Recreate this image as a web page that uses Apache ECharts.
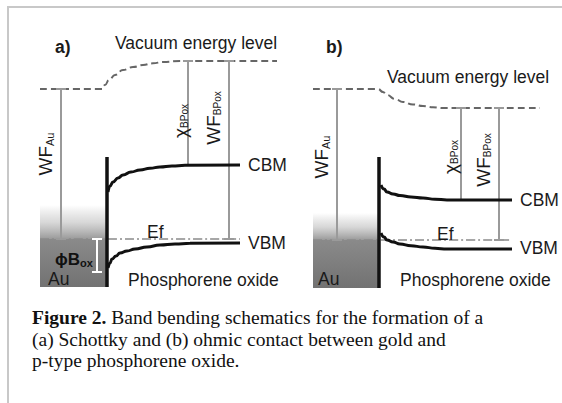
<!DOCTYPE html>
<html><head><meta charset="utf-8">
<script src="https://cdn.jsdelivr.net/npm/echarts@6/dist/echarts.min.js"></script>
<style>html,body{margin:0;padding:0;background:#fff}#c{width:562px;height:403px}</style>
</head><body><div id="c"></div>
<script>
// Schematic coordinates: x = position across the figure, y = energy depth (larger = lower energy)
const vacuumA = [[40,89],[102,89],[105,85],[109,80],[115,75],[123,70],[133,67],[143,65],[153,63.3],[163,62],[180,61],[277,61]];
const vacuumB = [[313,89],[378,89],[383,92],[387,95],[395,99],[403,102],[413,104.5],[423,106],[433,107.2],[443,108],[457,108],[540,108]];
const cbmA = [[108,192],[110,186],[113,182],[118,178],[123,175],[131,172],[140,170],[150,168.3],[160,167],[172,166],[185,165.3],[240,165]];
const vbmA = [[108,268],[110,263],[112,259],[116,256],[120,253],[127,251],[135,249],[147,247],[160,245],[175,244],[190,243.3],[240,243]];
const cbmB = [[381,185],[384,189],[387,192],[393,194],[400,195.5],[411,197],[423,198],[435,199.2],[447,200],[512,200]];
const vbmB = [[381,233],[384,237],[387,240],[393,242],[400,244],[411,245.8],[423,247],[435,248.3],[447,249],[512,249]];
const fermiA = [[40,239],[240,239]];
const fermiB = [[313,240],[512,240]];
const interfaces = [[107,157,287],[379,157,288]];
const energyGaps = [[61,89,239],[188,61,165],[229,61,239],[337,89,240],[461,108,200],[499,108,240]];
const barrier = [[97,239,272]];
const metals = [[40,106,205,239,287],[313,378,213,240,288]]; // x0, x1, fade top, Ef, bottom

const chart = echarts.init(document.getElementById('c'), null, {renderer:'svg'});
const SANS = 'Liberation Sans, Arial, sans-serif';
const SERIF = 'Liberation Serif, Times New Roman, serif';

function ibeam(color, width, cap) {
  return function(params, api) {
    const t = api.coord([api.value(0), api.value(1)]);
    const b = api.coord([api.value(0), api.value(2)]);
    const x = t[0];
    const st = {stroke: color, lineWidth: width};
    return {type:'group', children:[
      {type:'line', shape:{x1:x, y1:t[1], x2:x, y2:b[1]}, style:st},
      {type:'line', shape:{x1:x-cap, y1:t[1], x2:x+cap, y2:t[1]}, style:st},
      {type:'line', shape:{x1:x-cap, y1:b[1], x2:x+cap, y2:b[1]}, style:st}
    ]};
  };
}
function lineSeries(data, color, width, type, z) {
  return {type:'line', data, showSymbol:false, smooth:true, smoothMonotone:'x', silent:true, z:z||2,
    lineStyle:{color, width, type: type||'solid'}};
}
function label(x, y, text, opt) {
  opt = opt || {};
  return {type:'text', x, y, rotation: opt.rot||0, z:100,
    style: Object.assign({text, fontFamily:SANS, fontSize:17.5, fill:'#1a1a1a', align:'left', verticalAlign:'middle'}, opt.style||{})};
}
function subLabel(x, y, main, sub, opt) {
  opt = opt || {};
  return {type:'text', x, y, rotation: Math.PI/2, z:100,
    style:{text:'{m|'+main+'}{s|'+sub+'}', align:'center', verticalAlign:'middle',
      rich:{m:{fontFamily:SANS, fontSize:opt.fs||19, fill:'#1a1a1a'}, s:{fontFamily:SANS, fontSize:opt.ss||11, fill:'#1a1a1a', padding:[9,0,0,0]}}}};
}

chart.setOption({
  animation:false,
  grid:{left:0, right:0, top:0, bottom:0},
  xAxis:{type:'value', min:0, max:562, show:false},
  yAxis:{type:'value', min:0, max:403, inverse:true, show:false},
  series:[
    {type:'custom', data:metals, silent:true, z:1, encode:{x:[0,1], y:[2,4]},
      renderItem:function(p, api){
        const a = api.coord([api.value(0), api.value(2)]);
        const b = api.coord([api.value(1), api.value(4)]);
        const ef = api.coord([api.value(0), api.value(3)])[1];
        const h = b[1]-a[1];
        const f = (ef-a[1])/h;
        return {type:'rect', shape:{x:a[0], y:a[1], width:b[0]-a[0], height:h},
          style:{fill:new echarts.graphic.LinearGradient(0,0,0,1,[
            {offset:0, color:'rgba(160,160,160,0)'},
            {offset:f*0.5, color:'rgba(170,170,170,0.45)'},
            {offset:f, color:'#9a9a9a'},
            {offset:Math.min(1,f+0.005), color:'#8a8a8a'},
            {offset:1, color:'#727272'}])}};
      }},
    lineSeries(vacuumA, '#666', 2, [7,4]),
    lineSeries(vacuumB, '#666', 2, [7,4]),
    lineSeries(fermiA, '#8a8a8a', 1.5, [9,3,2,3], 3),
    lineSeries(fermiB, '#8a8a8a', 1.5, [9,3,2,3], 3),
    {type:'custom', data:energyGaps, silent:true, z:4, encode:{x:0, y:[1,2]}, renderItem:ibeam('#9a9a9a', 2, 5)},
    {type:'custom', data:barrier, silent:true, z:4, encode:{x:0, y:[1,2]}, renderItem:ibeam('#ffffff', 2, 5)},
    lineSeries(cbmA, '#111', 3, 'solid', 5),
    lineSeries(vbmA, '#111', 3, 'solid', 5),
    lineSeries(cbmB, '#111', 3, 'solid', 5),
    lineSeries(vbmB, '#111', 3, 'solid', 5),
    {type:'custom', data:interfaces, silent:true, z:6, encode:{x:0, y:[1,2]},
      renderItem:function(p, api){
        const t = api.coord([api.value(0), api.value(1)]);
        const b = api.coord([api.value(0), api.value(2)]);
        return {type:'line', shape:{x1:t[0], y1:t[1], x2:b[0], y2:b[1]}, style:{stroke:'#111', lineWidth:3.5}};
      }}
  ],
  graphic:[
    {type:'line', shape:{x1:7, y1:7, x2:562, y2:7}, style:{stroke:'#c8c8c8', lineWidth:2}, z:100},
    {type:'line', shape:{x1:8, y1:7, x2:8, y2:403}, style:{stroke:'#c8c8c8', lineWidth:2}, z:100},
    label(55, 47, 'a)', {style:{fontWeight:'bold'}}),
    label(326, 47, 'b)', {style:{fontWeight:'bold'}}),
    label(115, 43, 'Vacuum energy level'),
    label(387, 77, 'Vacuum energy level'),
    label(248, 165, 'CBM'),
    label(248, 243, 'VBM'),
    label(520, 200, 'CBM'),
    label(520, 248, 'VBM'),
    label(147, 232, 'Ef'),
    label(437, 234, 'Ef'),
    label(48, 279, 'Au'),
    label(318, 279, 'Au'),
    label(128, 280, 'Phosphorene oxide'),
    label(400, 280, 'Phosphorene oxide'),
    {type:'text', x:55, y:259, z:100, style:{text:'{m|\u03d5B}{s|ox}', align:'left', verticalAlign:'middle',
      rich:{m:{fontFamily:SANS, fontSize:17, fontWeight:'bold', fill:'#111'}, s:{fontFamily:SANS, fontSize:11, fontWeight:'bold', fill:'#111', padding:[8,0,0,0]}}}},
    subLabel(45, 154, 'WF', 'Au'),
    subLabel(180, 121, '\u03c7', 'BPox', {fs:19, ss:10}),
    subLabel(213, 118, 'WF', 'BPox', {ss:10}),
    subLabel(321, 157, 'WF', 'Au'),
    subLabel(450, 157, '\u03c7', 'BPox', {fs:19, ss:10}),
    subLabel(483, 160, 'WF', 'BPox', {ss:10}),
    {type:'text', x:32, y:307, z:100, style:{
      text:'{b|Figure 2.} Band bending schematics for the formation of a\n(a) Schottky and (b) ohmic contact between gold and\np-type phosphorene oxide.',
      fontFamily:SERIF, fontSize:19.5, lineHeight:21.5, fill:'#111', align:'left', verticalAlign:'top',
      rich:{b:{fontFamily:SERIF, fontSize:19.5, fontWeight:'bold', fill:'#111'}}}}
  ]
});
</script>
</body></html>
